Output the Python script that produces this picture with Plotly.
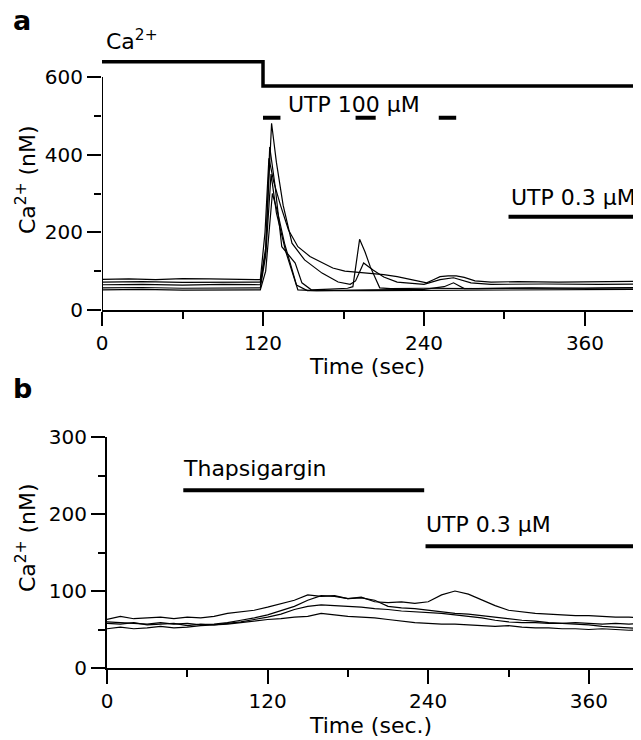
import plotly.graph_objects as go

# ---- panel a : UTP 100 uM pulses, then UTP 0.3 uM ----
t_a1 = [0, 20, 40, 60, 80, 100, 118, 121.5, 124.4, 128, 133, 139, 146, 155, 164, 172, 181, 189,
        200, 210, 220, 232, 242, 247, 252, 258, 264, 270, 278, 290, 310, 340, 370, 400]
ca_a1 = [79, 80, 78, 81, 80, 79, 78, 200, 391, 330, 270, 206, 163, 138, 121, 108, 100, 98,
         95, 91, 86, 78, 70, 78, 86, 88, 88, 84, 75, 72, 73, 72, 73, 74]

t_a2 = [0, 30, 60, 90, 118, 122, 126.4, 130, 135, 141.6, 151, 164, 176, 185, 189, 195, 202, 210,
        220, 240, 252, 262, 275, 290, 330, 370, 400]
ca_a2 = [72, 73, 71, 72, 72, 160, 481, 380, 270, 172, 129, 95, 72, 66, 75, 121, 103, 85,
         72, 66, 78, 83, 70, 66, 67, 66, 67]

t_a3 = [0, 30, 60, 90, 118, 122, 125, 129, 134, 144, 149, 156, 170, 183, 187, 192, 196, 200,
        207, 215, 240, 280, 320, 360, 400]
ca_a3 = [65, 66, 64, 66, 65, 150, 420, 320, 163, 121, 70, 52, 54, 56, 60, 182, 150, 111,
         57, 55, 56, 55, 57, 56, 58]

t_a4 = [0, 30, 60, 90, 118, 122, 126, 130, 137, 146, 160, 200, 240, 255, 262, 270, 300, 340, 400]
ca_a4 = [57, 58, 56, 57, 57, 140, 350, 250, 150, 52, 50, 52, 53, 60, 70, 55, 55, 56, 57]

t_a5 = [0, 30, 60, 90, 118, 122, 127, 131, 136, 145, 153, 200, 250, 300, 350, 400]
ca_a5 = [52, 53, 51, 52, 52, 100, 300, 250, 172, 64, 50, 50, 51, 51, 52, 53]

# bath Ca2+ (drawn as a step above the traces) and drug application periods (sec)
bath_t = [0, 120, 120, 401]
bath_ca = [639, 639, 577, 577]
utp100_periods = [(120, 133), (189, 204), (251, 264)]
utp03_a_period = (303, 401)

# ---- panel b : thapsigargin, then UTP 0.3 uM ----
t_b = [0, 10, 20, 30, 40, 50, 60, 70, 80, 90, 100, 110, 120, 130, 140, 150, 160, 170, 180, 190, 200,
       210, 220, 230, 240, 250, 260, 270, 280, 290, 300, 310, 320, 330, 340, 350, 360, 370, 380, 390, 400]
ca_b1 = [63, 67, 64, 65, 66, 64, 66, 65, 67, 71, 73, 75, 79, 84, 88, 95, 93, 94, 90, 92, 86,
         85, 86, 84, 86, 95, 100, 96, 88, 81, 75, 73, 71, 70, 69, 68, 68, 67, 66, 66, 65]
ca_b2 = [60, 59, 58, 57, 59, 57, 58, 56, 57, 59, 62, 65, 69, 74, 80, 88, 94, 93, 90, 91, 88,
         80, 78, 77, 75, 73, 71, 70, 68, 66, 64, 62, 61, 59, 58, 57, 56, 54, 53, 52, 51]
ca_b3 = [58, 57, 59, 56, 57, 58, 55, 57, 56, 58, 60, 63, 66, 70, 76, 80, 82, 81, 80, 79, 77,
         76, 74, 73, 72, 71, 69, 67, 65, 62, 60, 59, 59, 58, 58, 59, 58, 57, 58, 57, 58]
ca_b4 = [51, 53, 51, 52, 54, 52, 53, 55, 56, 57, 59, 61, 63, 64, 66, 67, 71, 69, 67, 66, 65,
         63, 61, 59, 58, 57, 57, 56, 55, 54, 55, 53, 52, 52, 51, 51, 50, 51, 50, 49, 50]

thaps_period = (57, 237)
utp03_b_period = (238, 399)

# the page puts the figure 8px in from the top-left corner
OFF = 8
W, H = 641 - OFF, 740 - OFF
FONT = "DejaVu Sans"


def fx(px):
    return (px - OFF) / W


def fy(py):
    return 1 - (py - OFF) / H


fig = go.Figure()

for t, v in [(t_a1, ca_a1), (t_a2, ca_a2), (t_a3, ca_a3), (t_a4, ca_a4), (t_a5, ca_a5)]:
    fig.add_trace(go.Scatter(x=t, y=v, mode="lines", line=dict(color="black", width=1.2),
                             xaxis="x", yaxis="y", showlegend=False))

fig.add_trace(go.Scatter(x=bath_t, y=bath_ca, mode="lines", line=dict(color="black", width=3.5),
                         xaxis="x", yaxis="y", showlegend=False))
for s, e in utp100_periods:
    fig.add_trace(go.Scatter(x=[s, e], y=[495, 495], mode="lines", line=dict(color="black", width=4),
                             xaxis="x", yaxis="y", showlegend=False))
fig.add_trace(go.Scatter(x=list(utp03_a_period), y=[240, 240], mode="lines",
                         line=dict(color="black", width=4), xaxis="x", yaxis="y", showlegend=False))

for v in [ca_b1, ca_b2, ca_b3, ca_b4]:
    fig.add_trace(go.Scatter(x=t_b, y=v, mode="lines", line=dict(color="black", width=1.2),
                             xaxis="x2", yaxis="y2", showlegend=False))
fig.add_trace(go.Scatter(x=list(thaps_period), y=[231, 231], mode="lines",
                         line=dict(color="black", width=4), xaxis="x2", yaxis="y2", showlegend=False))
fig.add_trace(go.Scatter(x=list(utp03_b_period), y=[158, 158], mode="lines",
                         line=dict(color="black", width=4), xaxis="x2", yaxis="y2", showlegend=False))

tick = dict(ticks="outside", ticklen=14, tickwidth=2, tickcolor="black", showgrid=False,
            zeroline=False, automargin=False, tickfont=dict(family=FONT, size=20, color="black"))
minor = dict(ticks="outside", ticklen=7, tickwidth=2, tickcolor="black", showgrid=False)

fig.update_layout(
    width=W, height=H, margin=dict(l=0, r=0, t=0, b=0),
    paper_bgcolor="white", plot_bgcolor="white",
    font=dict(family=FONT, size=20, color="black"),
    xaxis=dict(domain=[fx(102), fx(640)], range=[0, 401], anchor="y",
               showline=True, linewidth=2, linecolor="black",
               tickvals=[0, 120, 240, 360], minor=dict(tickvals=[60, 180, 300], **minor), **tick),
    yaxis=dict(domain=[fy(310), fy(53.7)], range=[0, 660], anchor="x",
               showline=False, tickvals=[0, 200, 400, 600],
               minor=dict(tickvals=[100, 300, 500], **minor), **tick),
    xaxis2=dict(domain=[fx(107), 1.0], range=[0, 399], anchor="y2",
                showline=True, linewidth=2, linecolor="black",
                tickvals=[0, 120, 240, 360], minor=dict(tickvals=[60, 180, 300], **minor), **tick),
    yaxis2=dict(domain=[fy(668), fy(437)], range=[0, 300], anchor="x2",
                showline=True, linewidth=2, linecolor="black", tickvals=[0, 100, 200, 300],
                minor=dict(tickvals=[50, 150, 250], **minor), **tick),
)

# y axis line of panel a only spans 0..600
fig.add_shape(type="line", xref="x", yref="y", x0=0, x1=0, y0=0, y1=600,
              line=dict(color="black", width=2))


def note(text, px, py, xanchor="left", size=22, angle=0, bold=False):
    if bold:
        text = "<b>" + text + "</b>"
    fig.add_annotation(text=text, xref="paper", yref="paper", x=fx(px), y=fy(py),
                       xanchor=xanchor, yanchor="middle", showarrow=False, textangle=angle,
                       font=dict(family=FONT, size=size, color="black"))


note("a", 11, 21, size=27, bold=True)
note("b", 11, 388, size=27, bold=True)
note("Ca<sup>2+</sup>", 104, 40)
note("UTP 100 μM", 286, 105)
note("UTP 0.3 μM", 509, 198)
note("Time (sec)", 367, 366, xanchor="center")
note("Ca<sup>2+</sup> (nM)", 26, 180, xanchor="center", angle=-90)
note("Thapsigargin", 181, 468)
note("UTP 0.3 μM", 424, 524)
note("Time (sec.)", 370, 725, xanchor="center")
note("Ca<sup>2+</sup> (nM)", 26, 538, xanchor="center", angle=-90)

fig.write_html("out.html")
